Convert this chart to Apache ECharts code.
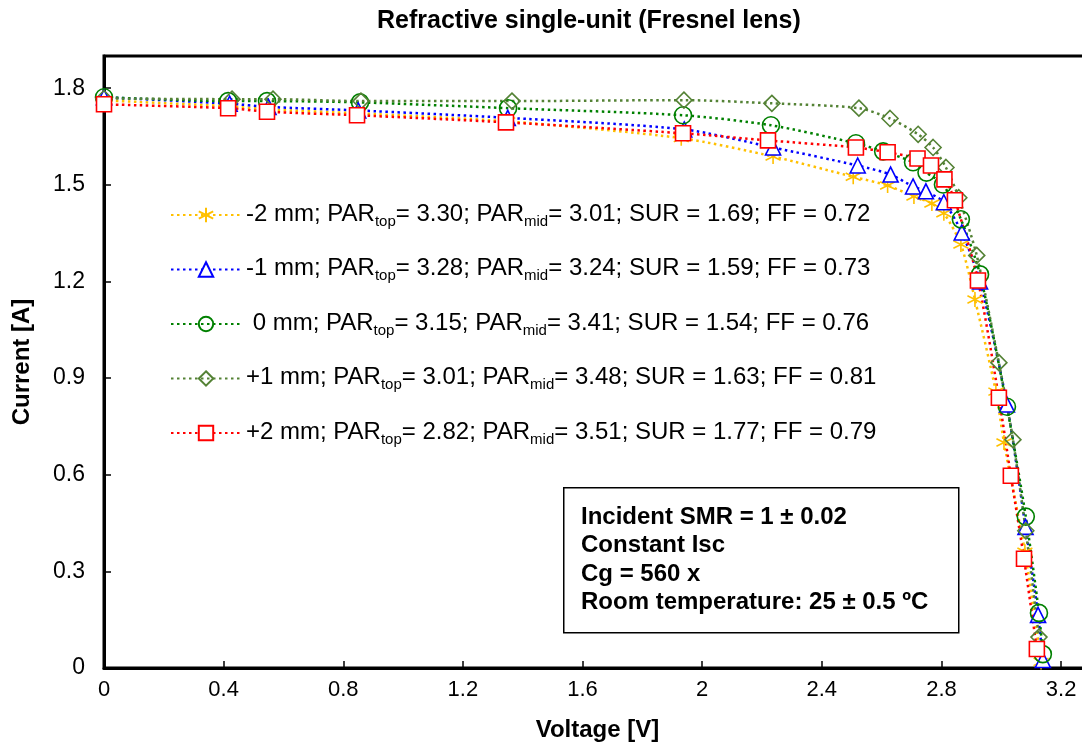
<!DOCTYPE html>
<html>
<head>
<meta charset="utf-8">
<script src="https://cdn.jsdelivr.net/npm/echarts@6/dist/echarts.min.js"></script>
<style>
  html, body { margin: 0; padding: 0; background: #fff; }
  #main { width: 1082px; height: 751px; }
</style>
</head>
<body>
<div id="main"></div>
<script>
// voltage [V] / current [A]
const m2V = [0, 0.42, 0.55, 0.85, 1.35, 1.93, 2.237, 2.505, 2.62, 2.708, 2.768, 2.808, 2.865, 2.912, 2.982, 3.009, 3.079, 3.133]
const m2I = [1.762, 1.744, 1.734, 1.722, 1.697, 1.645, 1.588, 1.525, 1.498, 1.464, 1.442, 1.412, 1.315, 1.144, 0.858, 0.70, 0.361, 0.019]

const m1V = [0, 0.42, 0.55, 0.85, 1.35, 1.94, 2.237, 2.52, 2.63, 2.705, 2.748, 2.808, 2.868, 2.929, 3.019, 3.081, 3.123, 3.139]
const m1I = [1.772, 1.752, 1.742, 1.731, 1.708, 1.672, 1.616, 1.56, 1.532, 1.495, 1.48, 1.446, 1.352, 1.2, 0.818, 0.438, 0.165, 0.025]

const z0V = [0, 0.415, 0.545, 0.856, 1.351, 1.936, 2.23, 2.514, 2.605, 2.705, 2.75, 2.805, 2.865, 2.929, 3.019, 3.082, 3.126, 3.139]
const z0I = [1.772, 1.760, 1.760, 1.756, 1.738, 1.716, 1.685, 1.629, 1.604, 1.57, 1.538, 1.501, 1.393, 1.222, 0.811, 0.47, 0.171, 0.043]

const p1V = [0, 0.428, 0.565, 0.859, 1.364, 1.939, 2.233, 2.524, 2.628, 2.722, 2.772, 2.815, 2.858, 2.918, 2.992, 3.039, 3.082, 3.126]
const p1I = [1.768, 1.766, 1.766, 1.76, 1.76, 1.763, 1.753, 1.738, 1.706, 1.657, 1.616, 1.554, 1.46, 1.281, 0.948, 0.709, 0.426, 0.096]

const p2V = [0, 0.415, 0.545, 0.846, 1.344, 1.936, 2.22, 2.514, 2.62, 2.72, 2.765, 2.81, 2.845, 2.922, 2.992, 3.032, 3.076, 3.119]
const p2I = [1.75, 1.738, 1.727, 1.716, 1.694, 1.66, 1.638, 1.616, 1.601, 1.582, 1.56, 1.517, 1.452, 1.203, 0.839, 0.597, 0.339, 0.059]

const names = ['-2 mm', '-1 mm', '0 mm', '+1 mm', '+2 mm']
const parTop = ['3.30', '3.28', '3.15', '3.01', '2.82']
const parMid = ['3.01', '3.24', '3.41', '3.48', '3.51']
const sur = ['1.69', '1.59', '1.54', '1.63', '1.77']
const ff = ['0.72', '0.73', '0.76', '0.81', '0.79']

const boxLines = ['Incident SMR = 1 \u00b1 0.02', 'Constant Isc', 'Cg = 560 x', 'Room temperature: 25 \u00b1 0.5 \u00baC']

const xTicks = [0, 0.4, 0.8, 1.2, 1.6, 2, 2.4, 2.8, 3.2]

const FONT = 'Arial, "Liberation Sans", sans-serif'

function pairs(vs, is) {
  return vs.map(function (v, i) { return [v, is[i]] })
}

const asterisk = 'path://M5,0L5,10M0.7,2.5L9.3,7.5M0.7,7.5L9.3,2.5'

function makeSeries(name, data, color, symbol, size, fill) {
  return {
    name: name,
    type: 'line',
    data: data,
    smooth: 0.25,
    clip: false,
    symbol: symbol,
    symbolSize: size,
    showAllSymbol: true,
    lineStyle: { color: color, width: 2.5, type: [2.5, 3.5] },
    itemStyle: { color: fill, borderColor: color, borderWidth: 1.6 },
    emphasis: { disabled: true },
    z: 2
  }
}

const chart = echarts.init(document.getElementById('main'), null, { renderer: 'canvas' })

const legendText = {}
names.forEach(function (n, i) {
  legendText[n] = '{t|' + (i == 2 ? ' ' : '') + n + '; PAR}{s|top}{t|= ' + parTop[i] + '; PAR}{s|mid}{t|= ' + parMid[i] +
    '; SUR = ' + sur[i] + '; FF = ' + ff[i] + '}'
})

const option = {
  animation: false,
  backgroundColor: '#fff',
  title: {
    text: 'Refractive single-unit (Fresnel lens)',
    left: 372,
    top: 4,
    textStyle: { fontFamily: FONT, fontSize: 25, fontWeight: 'bold', color: '#000' }
  },
  grid: {
    left: 104, top: 56, width: 987, height: 612,
    outerBoundsMode: 'none',
    containLabel: false,
    show: true, borderColor: '#000', borderWidth: 3, backgroundColor: 'transparent'
  },
  legend: {
    orient: 'vertical',
    left: 165,
    top: 197,
    itemWidth: 70,
    itemHeight: 18,
    itemGap: 27.5,
    selectedMode: false,
    data: names,
    formatter: function (n) { return legendText[n] },
    textStyle: {
      fontFamily: FONT,
      color: '#000',
      rich: {
        t: { fontFamily: FONT, fontSize: 24, lineHeight: 26, verticalAlign: 'top', color: '#000' },
        s: { fontFamily: FONT, fontSize: 15, lineHeight: 16, verticalAlign: 'top', padding: [12, 0, 0, 0], color: '#000' }
      }
    }
  },
  xAxis: {
    type: 'value',
    min: 0,
    max: 3.3,
    interval: 0.4,
    name: 'Voltage [V]',
    nameLocation: 'middle',
    nameGap: 50,
    nameTextStyle: { fontFamily: FONT, fontSize: 24, fontWeight: 'bold', color: '#000' },
    axisLine: { lineStyle: { color: '#000', width: 3 } },
    axisTick: { inside: true, length: 7, lineStyle: { color: '#000', width: 1.5 }, customValues: xTicks },
    axisLabel: {
      customValues: xTicks,
      fontFamily: FONT,
      fontSize: 22, color: '#000', margin: 11,
      formatter: function (v) { return String(+v.toFixed(1)) }
    },
    splitLine: { show: false }
  },
  yAxis: {
    type: 'value',
    min: 0,
    max: 1.9,
    interval: 0.3,
    name: 'Current [A]',
    nameLocation: 'middle',
    nameGap: 70,
    nameTextStyle: { fontFamily: FONT, fontSize: 24, fontWeight: 'bold', color: '#000' },
    axisLine: { show: true, lineStyle: { color: '#000', width: 3 } },
    axisTick: { show: true, inside: true, length: 7, lineStyle: { color: '#000', width: 1.5 } },
    axisLabel: {
      showMaxLabel: false,
      fontFamily: FONT, fontSize: 23, color: '#000', margin: 19,
      formatter: function (v) { return String(+v.toFixed(1)) }
    },
    splitLine: { show: false }
  },
  graphic: [
    {
      type: 'rect',
      left: 563, top: 487,
      shape: { width: 395, height: 145 },
      style: { fill: '#fff', stroke: '#000', lineWidth: 1.5 },
      z: 10
    },
    {
      type: 'text',
      left: 581, top: 503,
      style: {
        text: boxLines.join('\n'),
        font: 'bold 24px ' + FONT,
        lineHeight: 28.5,
        fill: '#000'
      },
      z: 11
    }
  ],
  series: [
    makeSeries(names[0], pairs(m2V, m2I), '#FFC000', asterisk, 15, 'transparent'),
    makeSeries(names[1], pairs(m1V, m1I), '#0000FF', 'triangle', 15, '#fff'),
    makeSeries(names[2], pairs(z0V, z0I), '#008000', 'circle', 17, 'transparent'),
    makeSeries(names[3], pairs(p1V, p1I), '#548235', 'diamond', 16, 'transparent'),
    makeSeries(names[4], pairs(p2V, p2I), '#FF0000', 'rect', 15, '#fff')
  ]
}

chart.setOption(option)
</script>
</body>
</html>
